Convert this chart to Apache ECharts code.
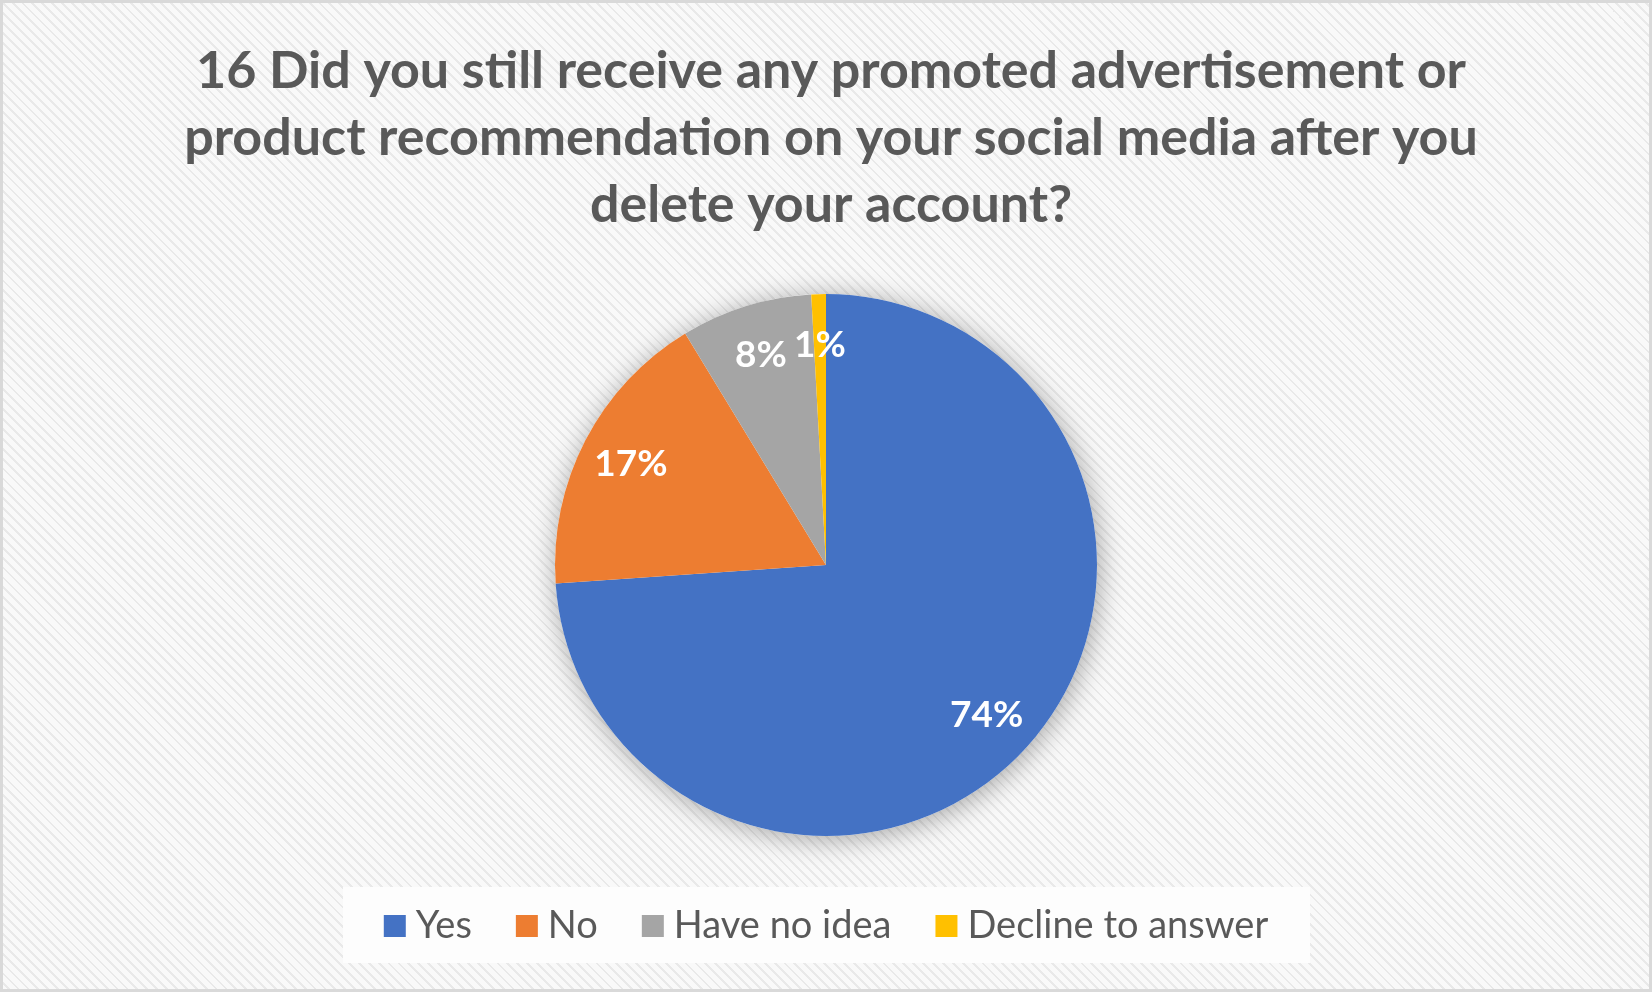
<!DOCTYPE html>
<html>
<head>
<meta charset="utf-8">
<script src="https://cdn.jsdelivr.net/npm/echarts@6/dist/echarts.min.js"></script>
<style>
html,body{margin:0;padding:0;}
#wrap{position:absolute;left:0;top:0;width:1652px;height:992px;box-sizing:border-box;border:3px solid #d9d9d9;
 background:repeating-linear-gradient(45deg,#f9f9f9 0px,#f9f9f9 3px,#e9e9e9 3px,#e9e9e9 5px,#f9f9f9 5px,#f9f9f9 7px);}
#legendBox{position:absolute;left:343px;top:887px;width:967px;height:76px;background:#fdfdfd;}
#chart{position:absolute;left:0;top:0;width:1652px;height:992px;}
</style>
</head>
<body>
<div id="wrap"></div>
<div id="legendBox"></div>
<div id="chart"></div>
<script>
const titleText = '16 Did you still receive any promoted advertisement or\nproduct recommendation on your social media after you\ndelete your account?';
const categories = ['Yes', 'No', 'Have no idea', 'Decline to answer'];
const counts = [85, 20, 9, 1];
const colors = ['#4472C4', '#ED7D31', '#A5A5A5', '#FFC000'];

const pieData = categories.map((c, i) => ({ name: c, value: counts[i], itemStyle: { color: colors[i] } }));
const R = 271;
const chart = echarts.init(document.getElementById('chart'), null, { renderer: 'canvas' });
chart.setOption({
  backgroundColor: 'transparent',
  animation: false,
  title: {
    text: titleText,
    left: 826,
    top: 33,
    textAlign: 'center',
    textStyle: { fontFamily: 'Lato', fontWeight: 'bold', fontSize: 52, lineHeight: 67, color: '#595959' }
  },
  legend: {
    data: categories,
    top: 902,
    left: 'center',
    itemWidth: 22,
    itemHeight: 22,
    itemGap: 44,
    icon: 'rect',
    textStyle: { fontFamily: 'Lato', fontSize: 38, color: '#595959', padding: [0, 0, 0, 5] }
  },
  series: [
    {
      type: 'pie', silent: true, radius: [0, R], center: [826, 565],
      label: { show: false }, labelLine: { show: false },
      itemStyle: { color: '#ffffff', shadowBlur: 28, shadowColor: 'rgba(0,0,0,0.35)', shadowOffsetX: 2, shadowOffsetY: 3 },
      data: [{ name: 'shadow', value: 1 }]
    },
    {
      type: 'pie', radius: [0, R], center: [826, 565], clockwise: true, startAngle: 90,
      label: { show: false }, labelLine: { show: false },
      itemStyle: { borderWidth: 0 },
      data: pieData
    },
    {
      type: 'pie', silent: true, radius: [R * 0.6, R], center: [826, 565], clockwise: true, startAngle: 90,
      itemStyle: { color: 'transparent', borderWidth: 0 },
      labelLine: { show: false },
      label: {
        show: true, position: 'inside',
        formatter: p => Math.round(p.percent) + '%',
        fontFamily: 'Lato', fontWeight: 'bold', fontSize: 37, color: '#ffffff'
      },
      data: categories.map((c, i) => ({ name: c, value: counts[i] }))
    }
  ]
});
</script>
</body>
</html>
